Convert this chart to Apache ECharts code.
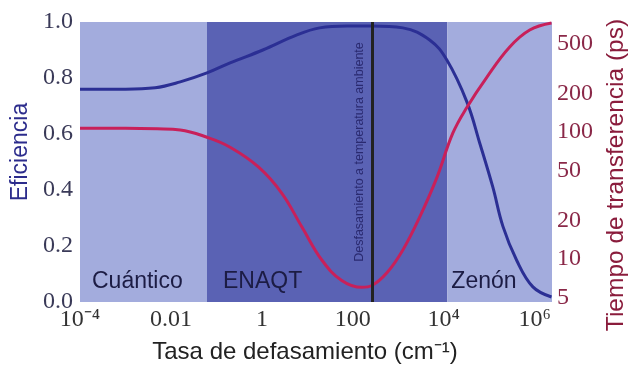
<!DOCTYPE html>
<html>
<head>
<meta charset="utf-8">
<script src="https://cdn.jsdelivr.net/npm/echarts@6/dist/echarts.min.js"></script>
<style>html,body{margin:0;padding:0;background:#fff}#c{width:630px;height:371px}</style>
</head>
<body>
<div id="c"></div>
<script>
// Efficiency curve (left axis)
const effRates = [1e-4, 1e-3, 4.5e-3, 0.016, 0.062, 0.2, 1.05, 5.9, 18.6, 74, 263, 1260, 4900, 11700, 32400, 61700, 120000, 200000, 398000, 912000, 2.34e6];
const effValues = [0.76, 0.76, 0.765, 0.786, 0.818, 0.854, 0.90, 0.954, 0.979, 0.986, 0.986, 0.979, 0.936, 0.864, 0.714, 0.568, 0.41, 0.27, 0.15, 0.054, 0.018];
// Transfer time curve (right axis, ps)
const timeRates = [1e-4, 1e-3, 5e-3, 0.016, 0.062, 0.2, 0.85, 2.75, 7.6, 21, 57, 158, 263, 562, 1260, 2950, 7080, 15800, 32400, 89000, 282000, 776000, 2.34e6];
const timeValues = [107, 107, 106, 104, 91, 76, 53, 33, 17.9, 9.8, 6.8, 6.0, 6.2, 7.8, 11.8, 21.4, 44, 98, 157, 271, 467, 635, 721];
// Regimes
const regimeNames = ['Cuántico', 'ENAQT', 'Zenón'];
const regimeBounds = [1e-4, 0.062, 12000, 2.4e6];
const roomTempRate = 263;
const roomTempLabel = 'Desfasamiento a temperatura ambiente';
// Tick labels
const xTicks = [1e-4, 0.01, 1, 100, 1e4, 1e6];
const xTickLabels = ['10⁻⁴', '0.01', '1', '100', '10⁴', '10⁶'];
const rightTicks = [5, 10, 20, 50, 100, 200, 500];

const light = '#a3acdd', dark = '#5a62b4';
const regimeColors = [light, dark, light];
const regimeOffsets = [[12, -9], [16, -9], [4, -9]];

const chart = echarts.init(document.getElementById('c'));
const serif = 'Liberation Serif';
const sans = 'Liberation Sans';
chart.setOption({
  animation: false,
  grid: {left: 80, right: 78, top: 22, bottom: 69, containLabel: false, outerBoundsMode: 'none'},
  xAxis: {
    type: 'log', logBase: 10, min: 1e-4, max: 2.4e6,
    axisLine: {show: false}, axisTick: {show: false}, splitLine: {show: false},
    axisLabel: {
      customValues: xTicks,
      formatter: v => { const i = xTicks.findIndex(t => Math.abs(Math.log10(t) - Math.log10(v)) < 1e-6); return i >= 0 ? xTickLabels[i] : ''; },
      fontFamily: serif, fontSize: 24, color: '#333', margin: 6
    },
    name: 'Tasa de defasamiento (cm⁻¹)', nameLocation: 'middle', nameGap: 38,
    nameTextStyle: {fontFamily: sans, fontSize: 24, color: '#222', padding: [0, 22, 0, 0]}
  },
  yAxis: [{
    type: 'value', min: 0, max: 1, interval: 0.2,
    axisLine: {show: false}, axisTick: {show: false}, splitLine: {show: false},
    axisLabel: {formatter: v => v.toFixed(1), fontFamily: serif, fontSize: 24, color: '#3a3a58', margin: 7},
    name: 'Eficiencia', nameLocation: 'middle', nameGap: 46, nameRotate: 90,
    nameTextStyle: {fontFamily: sans, fontSize: 23, color: '#2c2c8c', padding: [0, 0, 0, 20]}
  }, {
    type: 'log', logBase: 10, min: 4.6, max: 735,
    axisLine: {show: false}, axisTick: {show: false}, splitLine: {show: false},
    axisLabel: {customValues: rightTicks, formatter: v => String(Math.round(v)), fontFamily: serif, fontSize: 24, color: '#8a2848', margin: 5},
    name: 'Tiempo de transferencia (ps)', nameLocation: 'middle', nameGap: 52, nameRotate: 90,
    nameTextStyle: {fontFamily: sans, fontSize: 24.5, color: '#8a1c3c', padding: [0, 26, 0, 0]}
  }],
  series: [{
    type: 'line', data: [], z: 0, xAxisIndex: 0, yAxisIndex: 0, silent: true,
    markArea: {
      silent: true,
      data: regimeNames.map((n, i) => [{
        name: n, xAxis: regimeBounds[i], itemStyle: {color: regimeColors[i], opacity: 1},
        label: {show: true, position: 'insideBottomLeft', distance: 0, offset: regimeOffsets[i],
          fontFamily: sans, fontSize: 23, color: '#1c1c44'}
      }, {xAxis: regimeBounds[i + 1]}])
    },
    markLine: {
      silent: true, symbol: 'none',
      lineStyle: {color: '#222', width: 3, type: 'solid'},
      label: {show: true, position: 'middle', distance: 6, formatter: roomTempLabel,
        fontFamily: sans, fontSize: 12.5, color: '#2a2a70', padding: [0, 0, 0, 20]},
      data: [{xAxis: roomTempRate}]
    }
  }, {
    type: 'line', z: 3, xAxisIndex: 0, yAxisIndex: 0, smooth: 0.4, showSymbol: false,
    lineStyle: {color: '#2b2f94', width: 3},
    data: effRates.map((r, i) => [r, effValues[i]])
  }, {
    type: 'line', z: 3, xAxisIndex: 0, yAxisIndex: 1, smooth: 0.4, showSymbol: false,
    lineStyle: {color: '#c8205a', width: 3},
    data: timeRates.map((r, i) => [r, timeValues[i]])
  }]
});
</script>
</body>
</html>
